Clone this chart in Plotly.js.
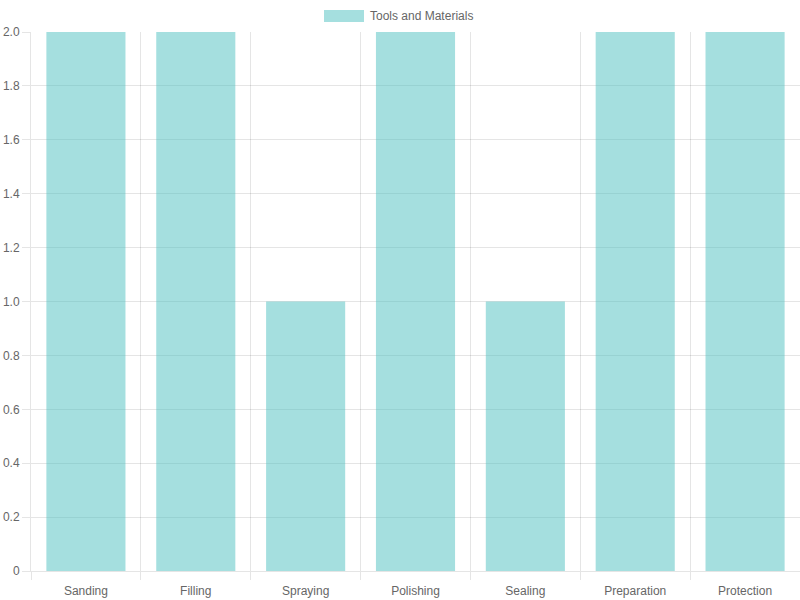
<!DOCTYPE html>
<html>
<head>
<meta charset="utf-8">
<script src="https://cdn.plot.ly/plotly-3.0.1.min.js"></script>
<style>html,body{margin:0;padding:0;background:#fff;}#chart{width:800px;height:600px;}</style>
</head>
<body>
<div id="chart"></div>
<script>
const categories = ["Sanding", "Filling", "Spraying", "Polishing", "Sealing", "Preparation", "Protection"];
const values = [2, 2, 1, 2, 1, 2, 2];
const seriesName = "Tools and Materials";
const yTickVals = [0, 0.2, 0.4, 0.6, 0.8, 1.0, 1.2, 1.4, 1.6, 1.8, 2.0];
const yTickText = ["0", "0.2", "0.4", "0.6", "0.8", "1.0", "1.2", "1.4", "1.6", "1.8", "2.0"];

const fill = "rgba(75,192,192,0.5)";
const gridColor = "rgba(0,0,0,0.1)";
const font = {family: "Liberation Sans, Arial, sans-serif", size: 12, color: "#666"};

const L = 31, R = 800, T = 32, B = 571;
const W = R - L, H = B - T;
const px = x => (x - L) / W;
const py = y => (B - y) / H;

const trace = {
  type: "bar",
  x: categories,
  y: values,
  name: seriesName,
  marker: {color: fill, line: {width: 0}},
  showlegend: false,
  hoverinfo: "x+y"
};

const layout = {
  width: 800, height: 600,
  margin: {l: L, r: 800 - R, t: T, b: 600 - B},
  paper_bgcolor: "#fff", plot_bgcolor: "#fff",
  font: font,
  bargap: 0.28,
  showlegend: false,
  xaxis: {
    type: "category",
    tickson: "boundaries",
    showgrid: true, gridcolor: gridColor, gridwidth: 1,
    ticks: "outside", ticklen: 8, tickcolor: gridColor,
    ticklabelstandoff: 9,
    showline: true, linecolor: gridColor, linewidth: 1,
    tickfont: font,
    zeroline: false,
    fixedrange: true
  },
  yaxis: {
    range: [0, 2],
    tickvals: yTickVals, ticktext: yTickText,
    showgrid: true, gridcolor: gridColor, gridwidth: 1,
    ticks: "outside", ticklen: 8, tickcolor: gridColor,
    showline: true, linecolor: gridColor, linewidth: 1,
    zeroline: false,
    tickfont: font,
    fixedrange: true
  },
  shapes: [{
    type: "rect", xref: "paper", yref: "paper",
    x0: px(324), x1: px(364), y0: py(22), y1: py(10),
    fillcolor: fill, line: {width: 0}
  }],
  annotations: [{
    xref: "paper", yref: "paper",
    x: px(368), y: py(16),
    xanchor: "left", yanchor: "middle",
    text: seriesName, showarrow: false,
    font: font
  }]
};

Plotly.newPlot("chart", [trace], layout, {displayModeBar: false, staticPlot: true});
</script>
</body>
</html>
